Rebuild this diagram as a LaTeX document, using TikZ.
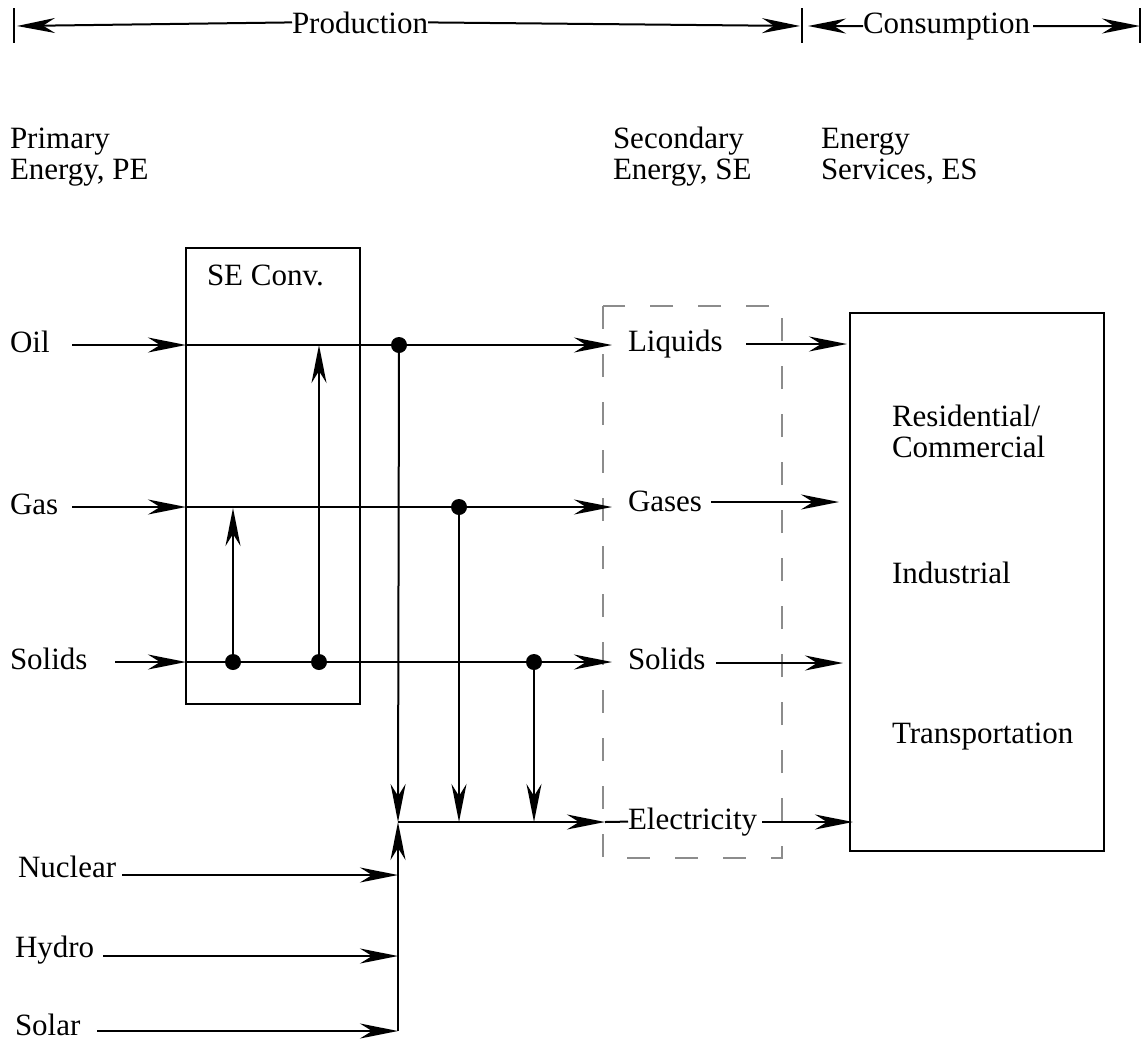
\documentclass[tikz,border=0pt]{standalone}
\usepackage{fontspec}
\setmainfont{Liberation Serif}
\usetikzlibrary{arrows.meta,calc}
\begin{document}
\begin{tikzpicture}[x=1pt,y=-1pt,
  line width=2pt,
  every node/.style={inner sep=0pt, outer sep=0pt, font=\fontsize{31}{31}\selectfont},
  lbl/.style={anchor=base west},
  arr/.style={-{Stealth[length=38pt,width=15pt,inset=12pt]}},
  jdot/.style={circle, fill=black, minimum size=16pt, inner sep=0pt},
  solidbox/.style={draw=black, line width=2pt},
  gbox/.style={draw=black!45, line width=2pt, dash pattern=on 23pt off 25pt}
]
\useasboundingbox (0,0) rectangle (1143,1042);

% ---------- top bar ----------
\coordinate (tL) at (14,26);
\coordinate (tM) at (802,26);
\coordinate (tR) at (1140,26);
\draw (14,8) -- (14,43);
\draw (802,8) -- (802,43);
\draw (1140,8) -- (1140,43);
\node[lbl] (prod) at (292,33) {Production};
\node[lbl] (cons) at (863,33) {Consumption};
\draw[arr] (prod.west) -- ([xshift=3pt]tL);
\draw[arr] (prod.east) -- ([xshift=-2pt]tM);
\draw[arr] (cons.west) -- ([xshift=6pt]tM);
\draw[arr] ([xshift=3pt]cons.east) -- (tR);

% ---------- column headings ----------
\node[lbl] (pe1) at (10,148) {Primary};
\node[lbl] (pe2) at (10,179) {Energy, PE};
\node[lbl] (se1) at (613,148) {Secondary};
\node[lbl] (se2) at (613,179) {Energy, SE};
\node[lbl] (es1) at (821,148) {Energy};
\node[lbl] (es2) at (821,179) {Services, ES};

% ---------- boxes ----------
\draw[solidbox] (186,248) rectangle (360,704);
\node[lbl] (seconv) at (207,285) {SE Conv.};
\draw[gbox] (603,306) rectangle (782,858);
\draw[solidbox] (850,313) rectangle (1104,851);
\node[lbl] (res1) at (892,426) {Residential/};
\node[lbl] (res2) at (892,457) {Commercial};
\node[lbl] (ind) at (892,583) {Industrial};
\node[lbl] (trn) at (892,743) {Transportation};

% ---------- primary labels ----------
\node[lbl] (oil) at (10,352) {Oil};
\node[lbl] (gas) at (10,514) {Gas};
\node[lbl] (sol) at (10,669) {Solids};
\node[lbl] (nuc) at (18,877) {Nuclear};
\node[lbl] (hyd) at (15,957) {Hydro};
\node[lbl] (sla) at (15,1035) {Solar};

% ---------- secondary labels ----------
\node[lbl] (liq) at (628,351) {Liquids};
\node[lbl] (gases) at (628,511) {Gases};
\node[lbl] (ssol) at (628,669) {Solids};
\node[lbl] (elec) at (628,829) {Electricity};

% ---------- coordinates ----------
\coordinate (oilS) at (72,345);
\coordinate (gasS) at (72,507);
\coordinate (solS) at (115,662);
\coordinate (oilIn) at (186,345);
\coordinate (gasIn) at (186,507);
\coordinate (solIn) at (186,662);
\coordinate (oilOut) at (612,345);
\coordinate (gasOut) at (612,507);
\coordinate (solOut) at (612,662);
\coordinate (elOut) at (605,822);
\coordinate (junc) at (398,822);
\coordinate (busB) at (398,1031);
\coordinate (nucS) at (122,875);
\coordinate (hydS) at (103,956);
\coordinate (slaS) at (97,1031);
\coordinate (nucE) at (398,875);
\coordinate (hydE) at (398,956);
\coordinate (solE) at (398,1031);
\coordinate (gasX) at (459,822);
\coordinate (solX) at (534,822);
\coordinate (c1) at (233,508);
\coordinate (c2) at (319,345);
\coordinate (liqS) at (746,344);
\coordinate (liqE) at (847,344);
\coordinate (gsS) at (711,502);
\coordinate (gsE) at (839,502);
\coordinate (ssS) at (716,663);
\coordinate (ssE) at (843,663);
\coordinate (elS) at (762,822);
\coordinate (elE) at (853,822);

% junction dots
\node[jdot] (d1) at (233,662) {};
\node[jdot] (d2) at (319,662) {};
\node[jdot] (d3) at (399,345) {};
\node[jdot] (d4) at (459,507) {};
\node[jdot] (d5) at (534,662) {};

% ---------- input arrows ----------
\draw[arr] (oilS) -- (oilIn);
\draw[arr] (gasS) -- (gasIn);
\draw[arr] (solS) -- (solIn);
\draw[arr] (oilIn) -- (oilOut);
\draw[arr] (gasIn) -- (gasOut);
\draw[arr] (solIn) -- (solOut);

% conversions inside SE box
\draw[arr] (d1.center) -- (c1);
\draw[arr] (d2.center) -- (c2);

% to electricity
\draw[arr] (d3.center) -- (junc);
\draw[arr] (d4.center) -- (gasX);
\draw[arr] (d5.center) -- (solX);
\draw[arr] (junc) -- (elOut);
\draw (elOut) -- (elec.west);
\draw[arr] (busB) -- (junc);

% nuclear, hydro, solar
\draw[arr] (nucS) -- (nucE);
\draw[arr] (hydS) -- (hydE);
\draw[arr] (slaS) -- (solE);

% to energy services
\draw[arr] (liqS) -- (liqE);
\draw[arr] (gsS) -- (gsE);
\draw[arr] (ssS) -- (ssE);
\draw[arr] (elS) -- (elE);
\end{tikzpicture}
\end{document}
